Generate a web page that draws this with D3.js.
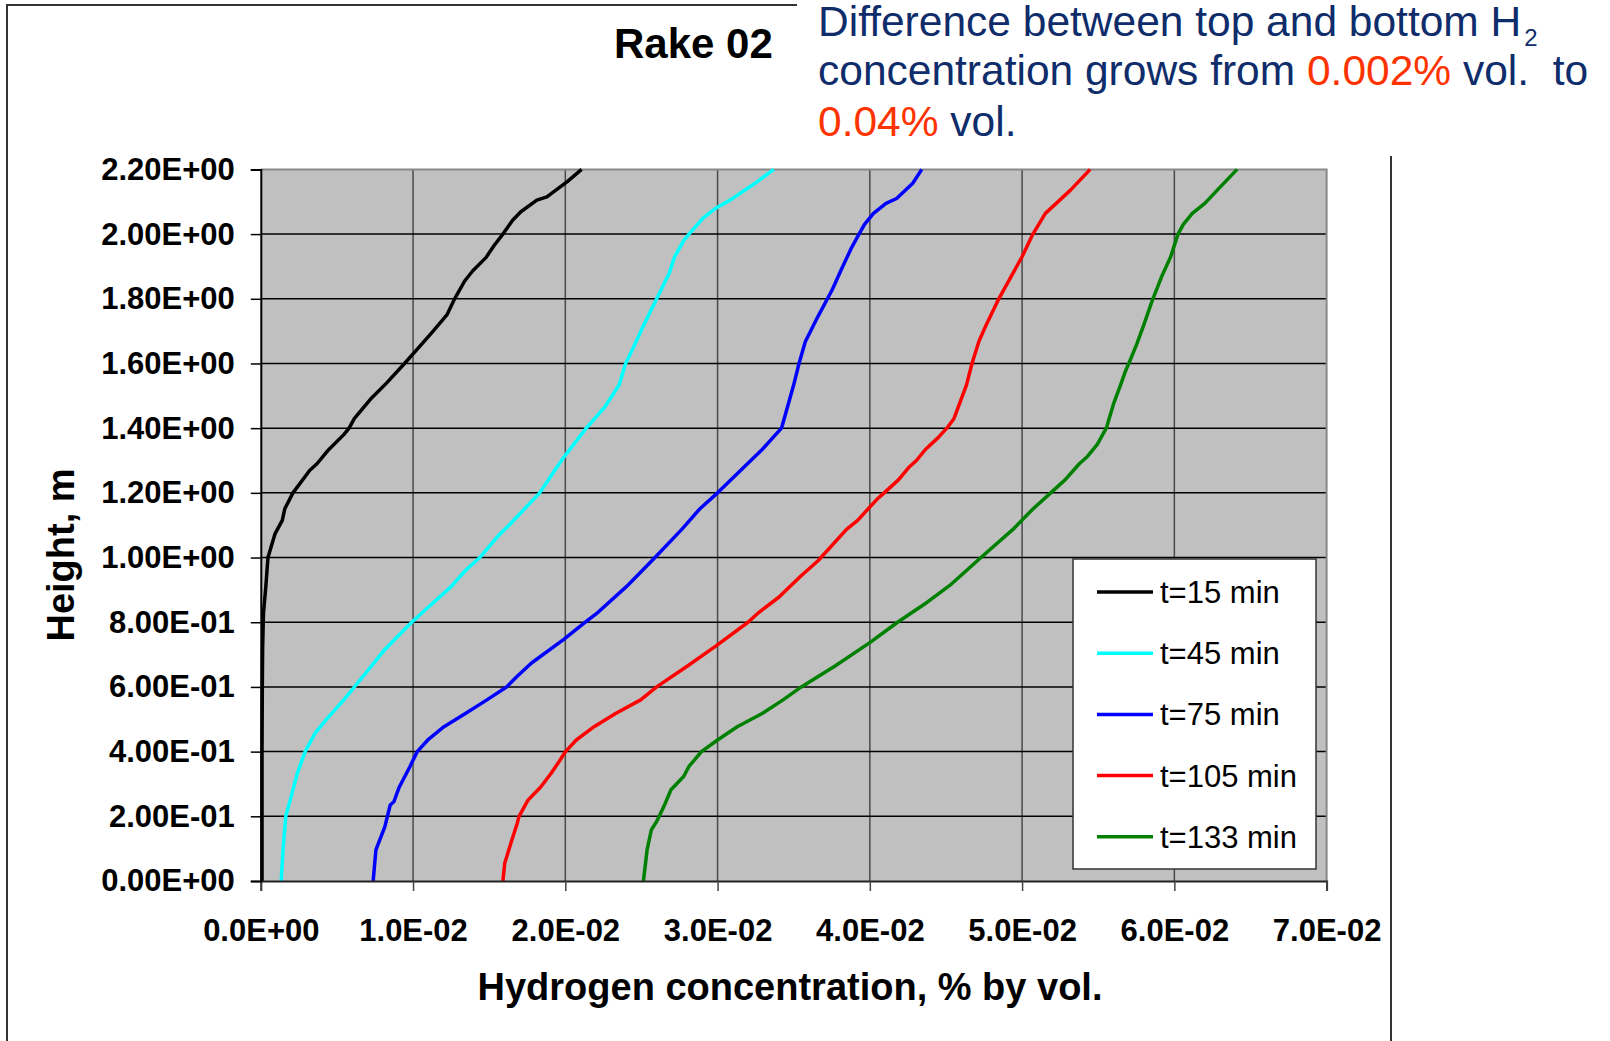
<!DOCTYPE html>
<html>
<head>
<meta charset="utf-8">
<script src="https://cdn.jsdelivr.net/npm/d3@7"></script>
<style>
  html, body { margin: 0; padding: 0; background: #fff; }
  svg { display: block; }
  text { font-family: "Liberation Sans", Arial, sans-serif; }
</style>
</head>
<body>
<svg id="chart" width="1610" height="1041"></svg>
<script>
// ---------------- DATA ----------------
const seriesNames = ["t=15 min", "t=45 min", "t=75 min", "t=105 min", "t=133 min"];
const seriesColors = ["#000000", "#00ffff", "#0000ff", "#ff0000", "#008000"];

const h15 = [0, 0.2, 0.4, 0.6, 0.72, 0.8, 0.83, 0.91, 1.0, 1.074, 1.115, 1.15, 1.2, 1.27, 1.29, 1.33, 1.38, 1.4, 1.43, 1.49, 1.54, 1.6, 1.65, 1.7, 1.75, 1.8, 1.855, 1.886, 1.928, 1.964, 2.0, 2.043, 2.069, 2.105, 2.115, 2.162, 2.2];
const c15 = [0.00008, 0.00008, 0.00008, 0.0001, 0.00012, 0.00016, 0.00018, 0.00033, 0.00047, 0.00094, 0.00141, 0.00157, 0.00211, 0.00322, 0.00369, 0.00439, 0.00545, 0.0058, 0.00615, 0.00721, 0.00827, 0.00944, 0.01038, 0.01132, 0.01222, 0.01273, 0.01339, 0.01391, 0.0148, 0.01531, 0.0159, 0.01654, 0.01708, 0.01813, 0.01879, 0.02013, 0.02107];

const h45 = [0, 0.096, 0.2, 0.25, 0.333, 0.4, 0.457, 0.498, 0.56, 0.6, 0.654, 0.716, 0.8, 0.84, 0.91, 0.96, 1.0, 1.065, 1.1, 1.2, 1.27, 1.31, 1.4, 1.466, 1.534, 1.6, 1.65, 1.71, 1.8, 1.88, 1.93, 1.98, 2.0, 2.05, 2.08, 2.105, 2.157, 2.2];
const c45 = [0.00134, 0.00146, 0.00164, 0.00193, 0.0024, 0.00291, 0.00357, 0.00428, 0.00545, 0.00615, 0.00709, 0.00815, 0.00991, 0.01085, 0.0125, 0.01344, 0.01438, 0.01555, 0.0163, 0.01832, 0.01931, 0.0199, 0.02138, 0.0226, 0.02354, 0.02396, 0.02448, 0.02506, 0.026, 0.02683, 0.02718, 0.02777, 0.02812, 0.02906, 0.02988, 0.03082, 0.03246, 0.03369];

const h75 = [0, 0.096, 0.168, 0.235, 0.245, 0.29, 0.354, 0.4, 0.436, 0.477, 0.518, 0.56, 0.6, 0.633, 0.674, 0.747, 0.8, 0.83, 0.91, 1.0, 1.087, 1.15, 1.2, 1.334, 1.4, 1.534, 1.6, 1.667, 1.745, 1.828, 1.89, 1.96, 2.0, 2.03, 2.064, 2.095, 2.11, 2.157, 2.2];
const c75 = [0.00738, 0.00756, 0.00815, 0.0085, 0.00874, 0.00909, 0.0098, 0.01027, 0.01097, 0.01203, 0.01344, 0.01485, 0.01614, 0.01684, 0.01778, 0.0199, 0.02131, 0.02213, 0.02401, 0.02589, 0.02765, 0.02882, 0.03, 0.03293, 0.0342, 0.035, 0.03535, 0.03576, 0.03659, 0.03753, 0.03812, 0.03882, 0.03929, 0.03965, 0.04024, 0.04106, 0.04176, 0.04282, 0.04341];

const h105 = [0, 0.055, 0.127, 0.178, 0.2, 0.25, 0.29, 0.333, 0.374, 0.4, 0.436, 0.477, 0.518, 0.56, 0.6, 0.664, 0.726, 0.8, 0.83, 0.878, 0.943, 0.99, 1.087, 1.115, 1.15, 1.18, 1.2, 1.24, 1.28, 1.3, 1.334, 1.37, 1.4, 1.43, 1.474, 1.534, 1.6, 1.67, 1.72, 1.8, 1.85, 1.93, 2.0, 2.064, 2.095, 2.136, 2.2];
const c105 = [0.0159, 0.01602, 0.01649, 0.01684, 0.01696, 0.01755, 0.01837, 0.01907, 0.01966, 0.02001, 0.02072, 0.02189, 0.0233, 0.02495, 0.026, 0.028, 0.02988, 0.032, 0.0327, 0.03404, 0.03547, 0.0366, 0.03847, 0.0392, 0.03988, 0.04047, 0.04094, 0.04188, 0.04259, 0.04306, 0.04365, 0.04447, 0.04506, 0.04553, 0.04588, 0.04635, 0.04671, 0.04718, 0.04765, 0.04847, 0.04906, 0.05, 0.05071, 0.05153, 0.05224, 0.05318, 0.05447];

const h133 = [0, 0.096, 0.158, 0.184, 0.23, 0.282, 0.323, 0.354, 0.4, 0.436, 0.477, 0.518, 0.56, 0.6, 0.664, 0.737, 0.8, 0.862, 0.913, 1.0, 1.087, 1.15, 1.2, 1.24, 1.29, 1.31, 1.35, 1.4, 1.474, 1.534, 1.58, 1.6, 1.66, 1.72, 1.8, 1.87, 1.93, 2.0, 2.03, 2.064, 2.095, 2.136, 2.2];
const c133 = [0.02513, 0.02537, 0.02565, 0.026, 0.02647, 0.02694, 0.02777, 0.02812, 0.02894, 0.03, 0.03129, 0.03293, 0.0343, 0.0355, 0.03769, 0.04, 0.04182, 0.04377, 0.04523, 0.0473, 0.0494, 0.05071, 0.05188, 0.05282, 0.05376, 0.05424, 0.05494, 0.05553, 0.056, 0.05647, 0.05682, 0.05701, 0.05753, 0.058, 0.05859, 0.05918, 0.05976, 0.06024, 0.06059, 0.06118, 0.062, 0.06282, 0.06412];

const seriesHeights = [h15, h45, h75, h105, h133];
const seriesConc = [c15, c45, c75, c105, c133];

const xTicks = [0, 0.01, 0.02, 0.03, 0.04, 0.05, 0.06, 0.07];
const xTickLabels = ["0.0E+00", "1.0E-02", "2.0E-02", "3.0E-02", "4.0E-02", "5.0E-02", "6.0E-02", "7.0E-02"];
const yTicks = [0, 0.2, 0.4, 0.6, 0.8, 1.0, 1.2, 1.4, 1.6, 1.8, 2.0, 2.2];
const yTickLabels = ["0.00E+00", "2.00E-01", "4.00E-01", "6.00E-01", "8.00E-01", "1.00E+00", "1.20E+00", "1.40E+00", "1.60E+00", "1.80E+00", "2.00E+00", "2.20E+00"];

const titleText = "Rake 02";
const xTitle = "Hydrogen concentration, % by vol.";
const yTitle = "Height, m";

// ---------------- LAYOUT ----------------
const svg = d3.select("#chart");
const plot = { left: 260.8, right: 1326.6, top: 169.4, bottom: 881 };
const x = d3.scaleLinear().domain([0, 0.07]).range([plot.left, plot.right]);
const y = d3.scaleLinear().domain([0, 2.2]).range([plot.bottom, plot.top]);
const FONT = '"Liberation Sans", Arial, sans-serif';

// outer frame
svg.append("path")
  .attr("d", "M7,1041 L7,5 L797,5")
  .attr("fill", "none").attr("stroke", "#333").attr("stroke-width", 2);
svg.append("line")
  .attr("x1", 1391).attr("x2", 1391).attr("y1", 156).attr("y2", 1041)
  .attr("stroke", "#333").attr("stroke-width", 2);

// plot background
svg.append("rect")
  .attr("x", plot.left).attr("y", plot.top)
  .attr("width", plot.right - plot.left).attr("height", plot.bottom - plot.top)
  .attr("fill", "#c0c0c0");

// gridlines
svg.append("g").selectAll("line").data(xTicks.slice(1, -1)).join("line")
  .attr("x1", d => x(d)).attr("x2", d => x(d))
  .attr("y1", plot.top).attr("y2", plot.bottom)
  .attr("stroke", "#4a4a4a").attr("stroke-width", 1.5);
svg.append("g").selectAll("line").data(yTicks.slice(1, -1)).join("line")
  .attr("x1", plot.left).attr("x2", plot.right)
  .attr("y1", d => y(d)).attr("y2", d => y(d))
  .attr("stroke", "#000").attr("stroke-width", 1.5);

// top and right border
svg.append("path")
  .attr("d", `M${plot.left},${plot.top} L${plot.right},${plot.top} L${plot.right},${plot.bottom}`)
  .attr("fill", "none").attr("stroke", "#888").attr("stroke-width", 2);

// series lines
const line = d3.line().x(d => x(d[1])).y(d => y(d[0])).curve(d3.curveLinear);
seriesNames.forEach((name, i) => {
  const pts = seriesHeights[i].map((h, j) => [h, seriesConc[i][j]]);
  svg.append("path")
    .datum(pts)
    .attr("d", line)
    .attr("fill", "none")
    .attr("stroke", seriesColors[i])
    .attr("stroke-width", 3.5)
    .attr("stroke-linejoin", "round")
    .attr("stroke-linecap", "butt");
});

// axes
const xAxis = d3.axisBottom(x).tickValues(xTicks)
  .tickFormat((d, i) => xTickLabels[i]).tickSize(10).tickPadding(28);
const gx = svg.append("g").attr("transform", `translate(0,${plot.bottom})`).call(xAxis);
gx.select(".domain").attr("stroke", "#222").attr("stroke-width", 2);
gx.selectAll(".tick line").attr("stroke", "#444").attr("stroke-width", 1.5);
gx.selectAll(".tick text")
  .attr("font-family", FONT).attr("font-size", 31).attr("font-weight", "bold").attr("fill", "#000");

const yAxis = d3.axisLeft(y).tickValues(yTicks)
  .tickFormat((d, i) => yTickLabels[i]).tickSize(10).tickPadding(16);
const gy = svg.append("g").attr("transform", `translate(${plot.left},0)`).call(yAxis);
gy.select(".domain").attr("stroke", "#000").attr("stroke-width", 2);
gy.selectAll(".tick line").attr("stroke", "#000").attr("stroke-width", 1.5);
gy.selectAll(".tick text")
  .attr("font-family", FONT).attr("font-size", 31).attr("font-weight", "bold").attr("fill", "#000");

// axis titles
svg.append("text")
  .attr("x", 790).attr("y", 1000)
  .attr("text-anchor", "middle")
  .attr("font-size", 38).attr("font-weight", "bold")
  .text(xTitle);
svg.append("text")
  .attr("transform", "translate(74,555) rotate(-90)")
  .attr("text-anchor", "middle")
  .attr("font-size", 38).attr("font-weight", "bold")
  .text(yTitle);

// chart title
svg.append("text")
  .attr("x", 614).attr("y", 58)
  .attr("font-size", 42).attr("font-weight", "bold")
  .text(titleText);

// annotation block
const navy = "#0f2c6b", orange = "#ff3300";
const t1 = svg.append("text").attr("x", 818).attr("y", 36).attr("font-size", 42.5).attr("fill", navy);
t1.append("tspan").text("Difference between top and bottom H");
t1.append("tspan").attr("font-size", 24).attr("dx", 3).attr("dy", 10).text("2");
const t2 = svg.append("text").attr("x", 818).attr("y", 85).attr("font-size", 42.5).attr("fill", navy)
  .style("white-space", "pre");
t2.append("tspan").text("concentration grows from ");
t2.append("tspan").attr("fill", orange).text("0.002%");
t2.append("tspan").text(" vol.  to");
const t3 = svg.append("text").attr("x", 818).attr("y", 136).attr("font-size", 42.5).attr("fill", navy)
  .style("white-space", "pre");
t3.append("tspan").attr("fill", orange).text("0.04%");
t3.append("tspan").text(" vol.");

// legend
const lg = svg.append("g");
lg.append("rect")
  .attr("x", 1073).attr("y", 559).attr("width", 243).attr("height", 310)
  .attr("fill", "#fff").attr("stroke", "#333").attr("stroke-width", 1.5);
seriesNames.forEach((name, i) => {
  const cy = 592 + i * 61.2;
  lg.append("line")
    .attr("x1", 1097).attr("x2", 1153).attr("y1", cy).attr("y2", cy)
    .attr("stroke", seriesColors[i]).attr("stroke-width", 3.5);
  lg.append("text")
    .attr("x", 1160).attr("y", cy + 11)
    .attr("font-size", 31).attr("fill", "#000")
    .text(name);
});
</script>
</body>
</html>
